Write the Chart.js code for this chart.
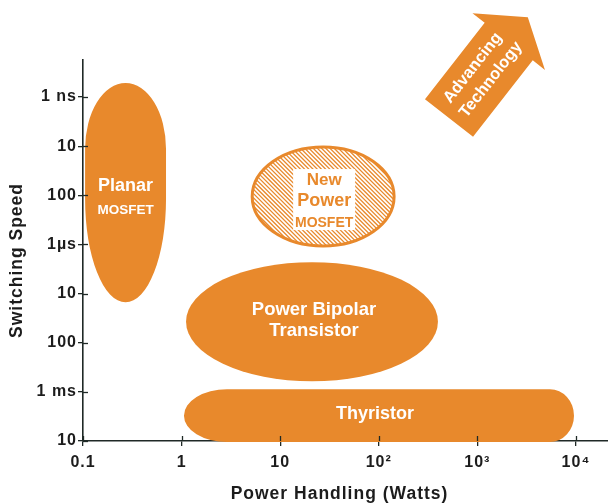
<!DOCTYPE html>
<html>
<head>
<meta charset="utf-8">
<script src="https://cdn.jsdelivr.net/npm/chart.js@4/dist/chart.umd.min.js"></script>
<style>
html,body{margin:0;padding:0;background:#fff;}
#wrap{width:608px;height:504px;position:relative;}
</style>
</head>
<body>
<div id="wrap"><canvas id="c" width="608" height="504"></canvas></div>
<script>
// ---- data ----
const devices = ["Planar MOSFET", "Power Bipolar Transistor", "Thyristor", "New Power MOSFET"];
const powerMin = [0.105, 1.11, 1.057, 5.2];      // W
const powerMax = [0.695, 398, 9550, 143];        // W
const speedFast = [5.2e-10, 2.29e-6, 8.85e-4, 1.04e-8]; // s (top of region)
const speedSlow = [1.5e-5, 6.1e-4, 1.05e-2, 1.08e-6];   // s (bottom of region)
const xTickValues = [0.1, 1, 10, 100, 1000, 10000];
const xTickLabels = ["0.1", "1", "10", "10\u00B2", "10\u00B3", "10\u2074"];
const yTickValues = [1e-9, 1e-8, 1e-7, 1e-6, 1e-5, 1e-4, 1e-3, 1e-2];
const yTickLabels = ["1 ns", "10", "100", "1\u00B5s", "10", "100", "1 ms", "10"];
const xTitle = "Power Handling (Watts)";
const yTitle = "Switching Speed";
const arrowLines = ["Advancing", "Technology"];

// ---- styles ----
const ORANGE = '#E8892C';
const AXIS = '#1f2926';
const TEXT = '#1c1c1c';
const FONT = "'Liberation Sans', Arial, Helvetica, sans-serif";

const shapeStyle = {
  "Planar MOSFET": {kind: 'egg', topFrac: 0.30, botFrac: 0.53,
    lines: [["Planar", 18, -7], ["MOSFET", 13.5, 17.5]], dx: 0, color: '#fff'},
  "Power Bipolar Transistor": {kind: 'ellipse',
    lines: [["Power Bipolar", 18.5, -12], ["Transistor", 18.5, 9]], dx: 2, color: '#fff'},
  "Thyristor": {kind: 'stadium', rxL: 43, rxR: 24,
    lines: [["Thyristor", 18, -2]], dx: -4, color: '#fff'},
  "New Power MOSFET": {kind: 'hatched',
    box: {w: 62, h: 61, dy: 3},
    lines: [["New", 17, -16.5], ["Power", 18, 4.5], ["MOSFET", 14, 26.5]], dx: 1, color: ORANGE}
};

function boxOf(chart, i) {
  const xs = chart.scales.x, ys = chart.scales.y;
  const l = xs.getPixelForValue(powerMin[i]);
  const r = xs.getPixelForValue(powerMax[i]);
  const t = ys.getPixelForValue(speedFast[i]);
  const b = ys.getPixelForValue(speedSlow[i]);
  return {l, r, t, b, cx: (l + r) / 2, cy: (t + b) / 2};
}

function shapePath(ctx, bx, st) {
  const {l, r, t, b, cx, cy} = bx;
  const rx = (r - l) / 2, ry = (b - t) / 2;
  ctx.beginPath();
  if (st.kind === 'egg') {
    const yA = t + st.topFrac * (b - t);
    const yB = t + st.botFrac * (b - t);
    ctx.ellipse(cx, yA, rx, yA - t, 0, Math.PI, 2 * Math.PI);
    ctx.lineTo(r, yB);
    ctx.ellipse(cx, yB, rx, b - yB, 0, 0, Math.PI);
    ctx.closePath();
  } else if (st.kind === 'stadium') {
    ctx.moveTo(l + st.rxL, t);
    ctx.lineTo(r - st.rxR, t);
    ctx.ellipse(r - st.rxR, cy, st.rxR, ry, 0, -Math.PI / 2, Math.PI / 2);
    ctx.lineTo(l + st.rxL, b);
    ctx.ellipse(l + st.rxL, cy, st.rxL, ry, 0, Math.PI / 2, 3 * Math.PI / 2);
    ctx.closePath();
  } else {
    ctx.ellipse(cx, cy, rx, ry, 0, 0, 2 * Math.PI);
  }
}

const regionsPlugin = {
  id: 'regions',
  beforeDraw(chart) {
    chart.ctx.letterSpacing = '1px';
  },
  beforeDatasetsDraw(chart) {
    const ctx = chart.ctx;
    devices.forEach((name, i) => {
      const st = shapeStyle[name];
      const bx = boxOf(chart, i);
      ctx.save();
      shapePath(ctx, bx, st);
      if (st.kind === 'hatched') {
        ctx.fillStyle = '#fff';
        ctx.fill();
        ctx.save();
        ctx.clip();
        ctx.strokeStyle = ORANGE;
        ctx.lineWidth = 1.3;
        const h = bx.b - bx.t;
        for (let x = bx.l - h - 10; x < bx.r + 10; x += 4.2) {
          ctx.beginPath();
          ctx.moveTo(x, bx.t - 5);
          ctx.lineTo(x + h + 10, bx.b + 5);
          ctx.stroke();
        }
        ctx.restore();
        shapePath(ctx, bx, st);
        ctx.strokeStyle = ORANGE;
        ctx.lineWidth = 3;
        ctx.stroke();
        ctx.fillStyle = '#fff';
        ctx.fillRect(bx.cx + st.dx - st.box.w / 2, bx.cy + st.box.dy - st.box.h / 2, st.box.w, st.box.h);
      } else {
        ctx.fillStyle = ORANGE;
        ctx.fill();
      }
      ctx.restore();
    });
  },
  afterDatasetsDraw(chart) {
    const ctx = chart.ctx;
    devices.forEach((name, i) => {
      const st = shapeStyle[name];
      const bx = boxOf(chart, i);
      ctx.save();
      ctx.letterSpacing = '0px';
      ctx.fillStyle = st.color;
      ctx.textAlign = 'center';
      ctx.textBaseline = 'middle';
      st.lines.forEach(([txt, size, dy]) => {
        ctx.font = `bold ${size}px ${FONT}`;
        ctx.fillText(txt, bx.cx + st.dx, bx.cy + dy);
      });
      ctx.restore();
    });
  },
  afterDraw(chart) {
    const ctx = chart.ctx;
    const xs = chart.scales.x, ys = chart.scales.y;
    const ca = chart.chartArea;
    ctx.save();
    // inner halves of the tick marks (ticks cross the axes)
    ctx.strokeStyle = AXIS;
    ctx.lineWidth = 1.3;
    xTickValues.forEach(v => {
      const px = Math.round(xs.getPixelForValue(v)) + 0.5;
      ctx.beginPath(); ctx.moveTo(px, ca.bottom); ctx.lineTo(px, ca.bottom - 5); ctx.stroke();
    });
    yTickValues.forEach(v => {
      const py = Math.round(ys.getPixelForValue(v)) + 0.5;
      ctx.beginPath(); ctx.moveTo(ca.left, py); ctx.lineTo(ca.left + 5, py); ctx.stroke();
    });
    // axis titles
    ctx.fillStyle = TEXT;
    ctx.font = `bold 17.5px ${FONT}`;
    ctx.letterSpacing = '1px';
    ctx.textAlign = 'center';
    ctx.textBaseline = 'middle';
    ctx.fillText(xTitle, (ca.left + ca.right) / 2 - 6, 494);
    ctx.save();
    ctx.translate(17, (ca.top + ca.bottom) / 2 + 10);
    ctx.rotate(-Math.PI / 2);
    ctx.fillText(yTitle, 0, 0);
    ctx.restore();
    // "Advancing Technology" arrow
    ctx.save();
    ctx.translate(449, 118);
    ctx.rotate(-52 * Math.PI / 180);
    ctx.beginPath();
    ctx.moveTo(0, -30.5);
    ctx.lineTo(97, -30.5);
    ctx.lineTo(97, -46);
    ctx.lineTo(128, 0);
    ctx.lineTo(97, 46);
    ctx.lineTo(97, 30.5);
    ctx.lineTo(0, 30.5);
    ctx.closePath();
    ctx.fillStyle = ORANGE;
    ctx.fill();
    ctx.fillStyle = '#fff';
    ctx.font = `bold 16.5px ${FONT}`;
    ctx.letterSpacing = '0px';
    ctx.fillText(arrowLines[0], 54, -12);
    ctx.fillText(arrowLines[1], 56, 9.5);
    ctx.restore();
    ctx.restore();
  }
};

const tickFont = {family: FONT, size: 16, weight: 'bold'};

new Chart(document.getElementById('c'), {
  type: 'scatter',
  data: {
    datasets: [{
      label: 'regions',
      data: devices.map((d, i) => ({
        x: Math.sqrt(powerMin[i] * powerMax[i]),
        y: Math.sqrt(speedFast[i] * speedSlow[i])
      })),
      pointRadius: 0,
      showLine: false
    }]
  },
  options: {
    responsive: false,
    animation: false,
    events: [],
    layout: {padding: {top: 60, left: 0, right: 0, bottom: 0}},
    plugins: {legend: {display: false}, tooltip: {enabled: false}},
    scales: {
      x: {
        type: 'logarithmic', position: 'bottom',
        min: 0.1, max: 21130, z: 1,
        afterBuildTicks: s => { s.ticks = xTickValues.map(v => ({value: v})); },
        afterFit: s => { s.height = 63; },
        ticks: {
          callback: v => { const k = xTickValues.indexOf(v); return k >= 0 ? xTickLabels[k] : ''; },
          autoSkip: false, maxRotation: 0, minRotation: 0,
          font: tickFont, color: TEXT, padding: 7
        },
        grid: {drawOnChartArea: false, drawTicks: true, tickLength: 5, color: AXIS, lineWidth: 1.3},
        border: {display: true, color: AXIS, width: 1.6}
      },
      y: {
        type: 'logarithmic', position: 'left', reverse: true,
        min: 1.76e-10, max: 1e-2, z: 1,
        afterBuildTicks: s => { s.ticks = yTickValues.map(v => ({value: v})); },
        afterFit: s => { s.width = 83; },
        ticks: {
          callback: v => { const k = yTickValues.indexOf(v); return k >= 0 ? yTickLabels[k] : ''; },
          autoSkip: false,
          font: tickFont, color: TEXT, padding: 1
        },
        grid: {drawOnChartArea: false, drawTicks: true, tickLength: 5, color: AXIS, lineWidth: 1.3},
        border: {display: true, color: AXIS, width: 1.6}
      }
    }
  },
  plugins: [regionsPlugin]
});
</script>
</body>
</html>
